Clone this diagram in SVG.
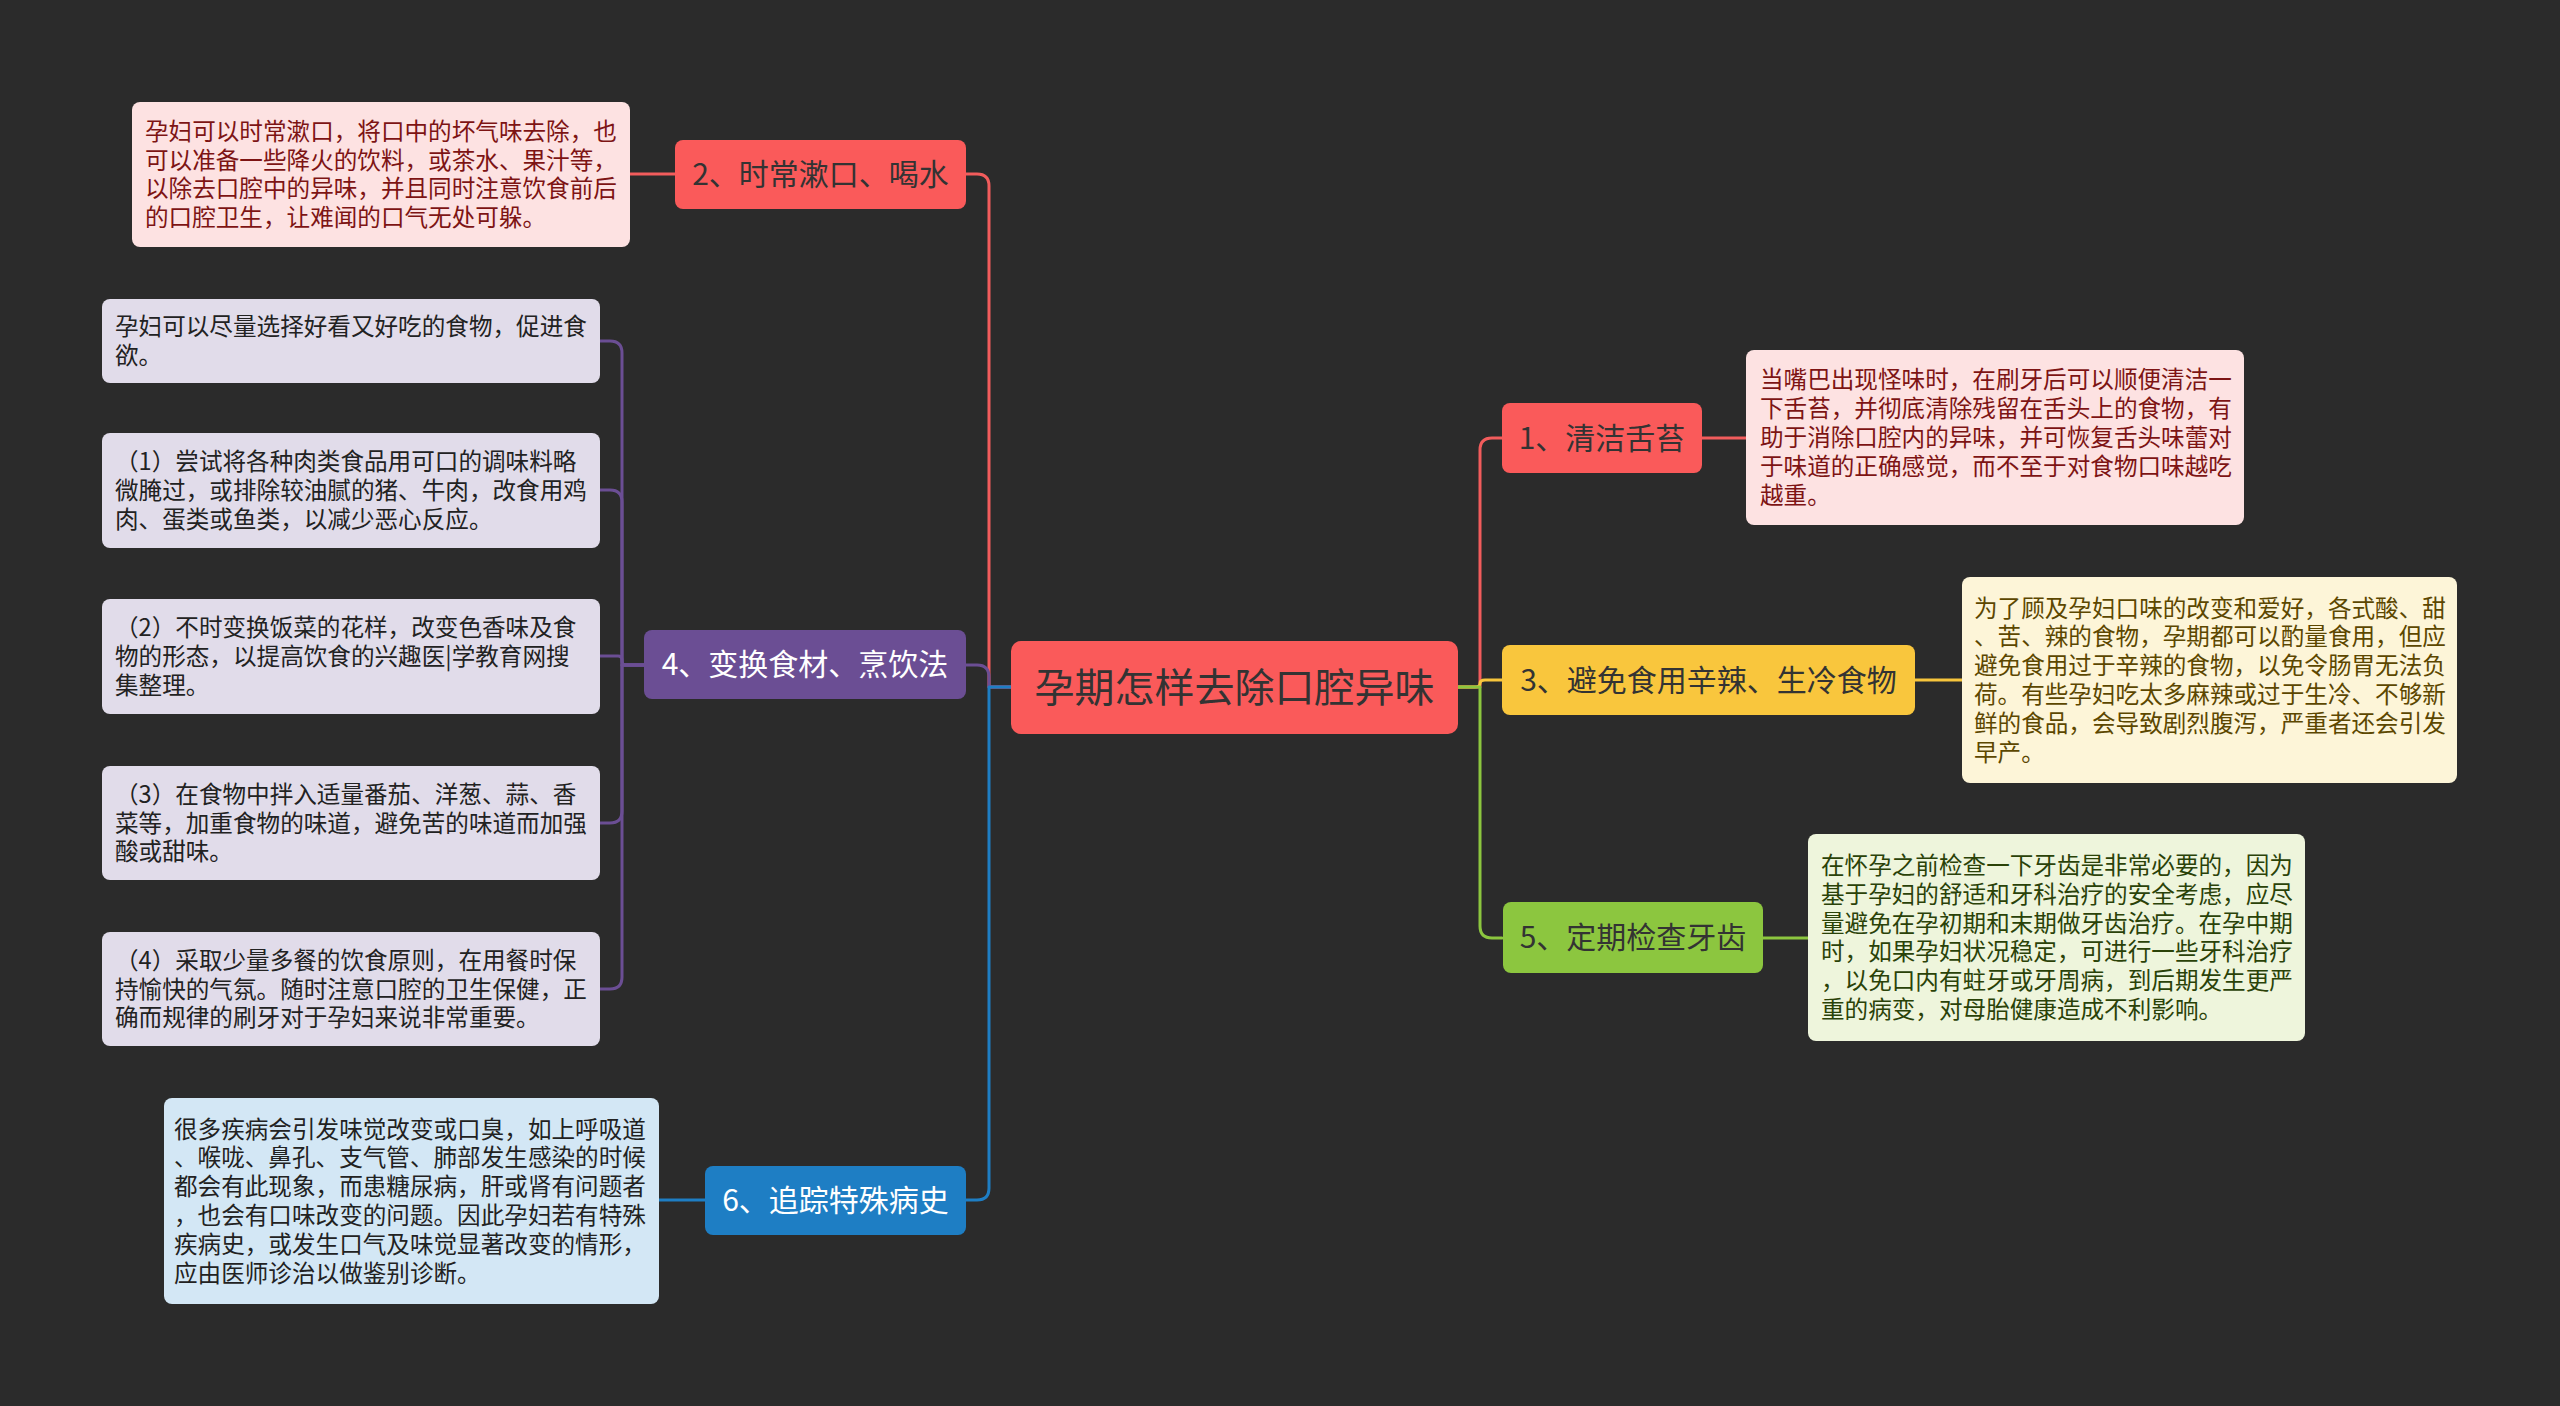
<svg xmlns="http://www.w3.org/2000/svg" width="2560" height="1406" viewBox="0 0 2560 1406">
<style>
.t{font-family:"Noto Sans CJK SC","Noto Sans",sans-serif;}
.leaf{font-size:23.6px;}
.topic{font-size:30px;text-anchor:middle;}
.c{fill:none;stroke-width:3;stroke-linecap:round;stroke-linejoin:round;}
.red{stroke:#f25c5c;}
.yel{stroke:#f7c53c;}
.grn{stroke:#8cc63f;}
.pur{stroke:#6b4e94;}
.blu{stroke:#1e7ec4;}
</style>
<rect x="0" y="0" width="2560" height="1406" fill="#2b2b2b"/>
<g id="connectors">
<path class="c red" d="M1011,687 H989 V186 Q989,174 977,174 H966"/>
<path class="c pur" d="M1011,687 H989 V677 Q989,665 977,665 H966"/>
<path class="c blu" d="M1011,687 H989 V1188 Q989,1200 977,1200 H966"/>
<path class="c red" d="M1458,687 H1480 V450 Q1480,438 1492,438 H1502"/>
<path class="c yel" d="M1458,687 H1475 Q1480,687 1480,683.5 Q1480,680 1485,680 H1502"/>
<path class="c grn" d="M1458,687 H1480 V926 Q1480,938 1492,938 H1502"/>
<path class="c red" d="M675,174 H630"/>
<path class="c red" d="M1702,438 H1746"/>
<path class="c yel" d="M1915,680 H1962"/>
<path class="c grn" d="M1763,938 H1808"/>
<path class="c blu" d="M705,1200 H659"/>
<path class="c pur" d="M644,665 H622 V353 Q622,341 610,341 H600"/>
<path class="c pur" d="M644,665 H622 V502 Q622,490 610,490 H600"/>
<path class="c pur" d="M644,665 H626 Q622,665 622,661 V660 Q622,656 618,656 H600"/>
<path class="c pur" d="M644,665 H622 V811 Q622,823 610,823 H600"/>
<path class="c pur" d="M644,665 H622 V977 Q622,989 610,989 H600"/>
</g>
<g id="central">
<rect x="1011" y="641" width="447" height="93" rx="10" fill="#fa5a5a"/>
<text class="t" x="1234.5" y="702" font-size="40" text-anchor="middle" fill="#333333">孕期怎样去除口腔异味</text>
</g>
<g id="topic2">
<rect x="675" y="140" width="291" height="69" rx="8" fill="#fa5a5a"/>
<text class="t topic" x="820.5" y="185.3" fill="#333333">2、时常漱口、喝水</text>
</g>
<g id="topic4">
<rect x="644" y="630" width="322" height="69" rx="8" fill="#6b4e94"/>
<text class="t topic" x="805" y="675.3" fill="#ffffff">4、变换食材、烹饮法</text>
</g>
<g id="topic6">
<rect x="705" y="1166" width="261" height="69" rx="8" fill="#1e7ec4"/>
<text class="t topic" x="835.5" y="1211.3" fill="#ffffff">6、追踪特殊病史</text>
</g>
<g id="topic1">
<rect x="1502" y="403" width="200" height="70" rx="8" fill="#fa5a5a"/>
<text class="t topic" x="1602" y="448.8" fill="#333333">1、清洁舌苔</text>
</g>
<g id="topic3">
<rect x="1502" y="645" width="413" height="70" rx="8" fill="#f9c63d"/>
<text class="t topic" x="1708.5" y="690.8" fill="#333333">3、避免食用辛辣、生冷食物</text>
</g>
<g id="topic5">
<rect x="1503" y="902" width="260" height="71" rx="8" fill="#8cc63f"/>
<text class="t topic" x="1633" y="948.3" fill="#333333">5、定期检查牙齿</text>
</g>
<g id="leaf2">
<rect x="132" y="102" width="498" height="145" rx="8" fill="#fde2e2"/>
<text class="t leaf" x="145" y="139.8" fill="#7d1414">孕妇可以时常漱口，将口中的坏气味去除，也<tspan x="145" dy="28.8">可以准备一些降火的饮料，或茶水、果汁等，</tspan><tspan x="145" dy="28.8">以除去口腔中的异味，并且同时注意饮食前后</tspan><tspan x="145" dy="28.8">的口腔卫生，让难闻的口气无处可躲。</tspan></text>
</g>
<g id="leaf4a">
<rect x="102" y="299" width="498" height="84" rx="8" fill="#e1dcea"/>
<text class="t leaf" x="115" y="335.1" fill="#222222">孕妇可以尽量选择好看又好吃的食物，促进食<tspan x="115" dy="28.8">欲。</tspan></text>
</g>
<g id="leaf4b">
<rect x="102" y="433" width="498" height="115" rx="8" fill="#e1dcea"/>
<text class="t leaf" x="115" y="470.2" fill="#222222">（1）尝试将各种肉类食品用可口的调味料略<tspan x="115" dy="28.8">微腌过，或排除较油腻的猪、牛肉，改食用鸡</tspan><tspan x="115" dy="28.8">肉、蛋类或鱼类，以减少恶心反应。</tspan></text>
</g>
<g id="leaf4c">
<rect x="102" y="599" width="498" height="115" rx="8" fill="#e1dcea"/>
<text class="t leaf" x="115" y="636.2" fill="#222222">（2）不时变换饭菜的花样，改变色香味及食<tspan x="115" dy="28.8">物的形态，以提高饮食的兴趣医|学教育网搜</tspan><tspan x="115" dy="28.8">集整理。</tspan></text>
</g>
<g id="leaf4d">
<rect x="102" y="766" width="498" height="114" rx="8" fill="#e1dcea"/>
<text class="t leaf" x="115" y="802.7" fill="#222222">（3）在食物中拌入适量番茄、洋葱、蒜、香<tspan x="115" dy="28.8">菜等，加重食物的味道，避免苦的味道而加强</tspan><tspan x="115" dy="28.8">酸或甜味。</tspan></text>
</g>
<g id="leaf4e">
<rect x="102" y="932" width="498" height="114" rx="8" fill="#e1dcea"/>
<text class="t leaf" x="115" y="968.7" fill="#222222">（4）采取少量多餐的饮食原则，在用餐时保<tspan x="115" dy="28.8">持愉快的气氛。随时注意口腔的卫生保健，正</tspan><tspan x="115" dy="28.8">确而规律的刷牙对于孕妇来说非常重要。</tspan></text>
</g>
<g id="leaf6">
<rect x="164" y="1098" width="495" height="206" rx="8" fill="#d3e7f5"/>
<text class="t leaf" x="174" y="1137.5" fill="#222222">很多疾病会引发味觉改变或口臭，如上呼吸道<tspan x="174" dy="28.8">、喉咙、鼻孔、支气管、肺部发生感染的时候</tspan><tspan x="174" dy="28.8">都会有此现象，而患糖尿病，肝或肾有问题者</tspan><tspan x="174" dy="28.8">，也会有口味改变的问题。因此孕妇若有特殊</tspan><tspan x="174" dy="28.8">疾病史，或发生口气及味觉显著改变的情形，</tspan><tspan x="174" dy="28.8">应由医师诊治以做鉴别诊断。</tspan></text>
</g>
<g id="leaf1">
<rect x="1746" y="350" width="498" height="175" rx="8" fill="#fde2e2"/>
<text class="t leaf" x="1760" y="388.4" fill="#7d1414">当嘴巴出现怪味时，在刷牙后可以顺便清洁一<tspan x="1760" dy="28.8">下舌苔，并彻底清除残留在舌头上的食物，有</tspan><tspan x="1760" dy="28.8">助于消除口腔内的异味，并可恢复舌头味蕾对</tspan><tspan x="1760" dy="28.8">于味道的正确感觉，而不至于对食物口味越吃</tspan><tspan x="1760" dy="28.8">越重。</tspan></text>
</g>
<g id="leaf3">
<rect x="1962" y="577" width="495" height="206" rx="8" fill="#fdf5d8"/>
<text class="t leaf" x="1974" y="616.5" fill="#5c4700">为了顾及孕妇口味的改变和爱好，各式酸、甜<tspan x="1974" dy="28.8">、苦、辣的食物，孕期都可以酌量食用，但应</tspan><tspan x="1974" dy="28.8">避免食用过于辛辣的食物，以免令肠胃无法负</tspan><tspan x="1974" dy="28.8">荷。有些孕妇吃太多麻辣或过于生冷、不够新</tspan><tspan x="1974" dy="28.8">鲜的食品，会导致剧烈腹泻，严重者还会引发</tspan><tspan x="1974" dy="28.8">早产。</tspan></text>
</g>
<g id="leaf5">
<rect x="1808" y="834" width="497" height="207" rx="8" fill="#eef5dc"/>
<text class="t leaf" x="1821" y="874" fill="#2a4208">在怀孕之前检查一下牙齿是非常必要的，因为<tspan x="1821" dy="28.8">基于孕妇的舒适和牙科治疗的安全考虑，应尽</tspan><tspan x="1821" dy="28.8">量避免在孕初期和末期做牙齿治疗。在孕中期</tspan><tspan x="1821" dy="28.8">时，如果孕妇状况稳定，可进行一些牙科治疗</tspan><tspan x="1821" dy="28.8">，以免口内有蛀牙或牙周病，到后期发生更严</tspan><tspan x="1821" dy="28.8">重的病变，对母胎健康造成不利影响。</tspan></text>
</g>
</svg>
